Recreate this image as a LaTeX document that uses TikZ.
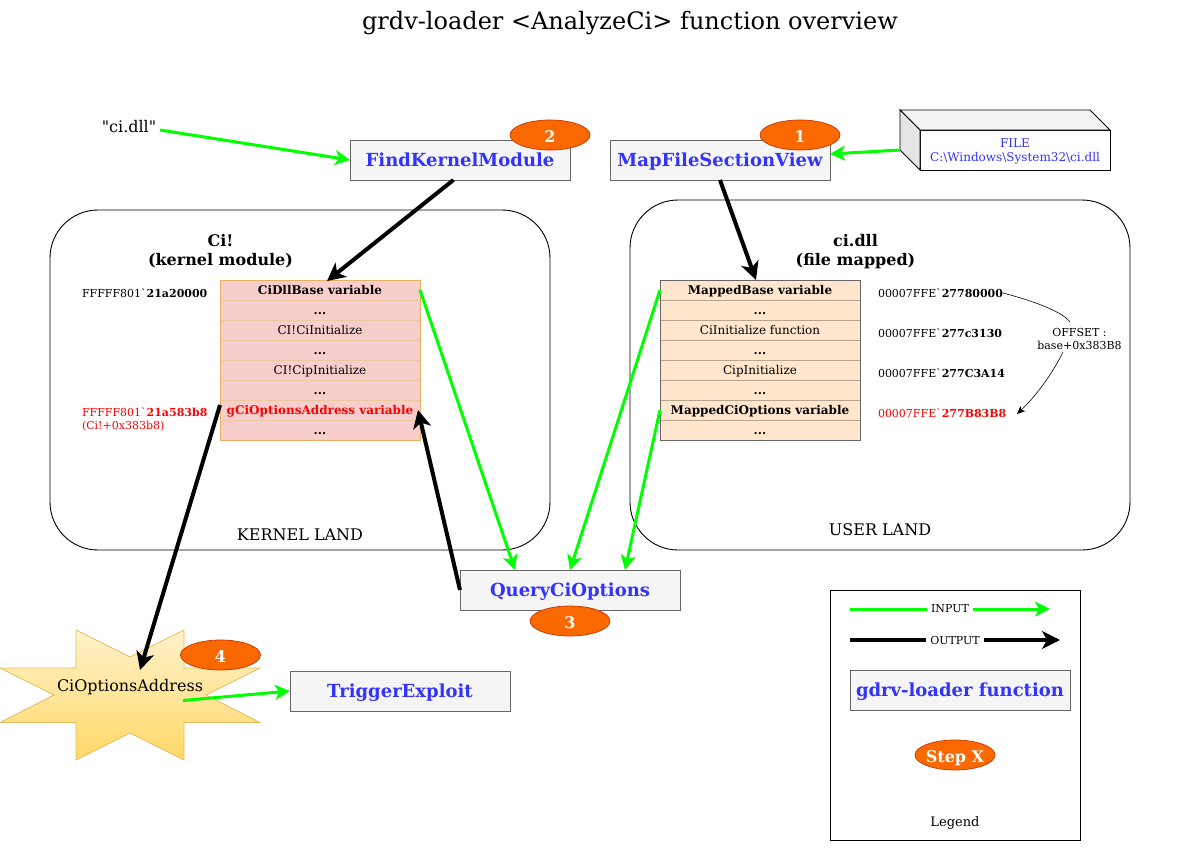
\documentclass[tikz,border=0pt]{standalone}
\usepackage{fontspec}
\setmainfont{DejaVu Serif}[Ligatures=TeXOff]
\usetikzlibrary{arrows.meta,calc,shapes.geometric}
\definecolor{fnblue}{HTML}{3333FF}
\definecolor{stepfill}{HTML}{FA6800}
\definecolor{stepline}{HTML}{C73500}
\definecolor{fnfill}{HTML}{F5F5F5}
\definecolor{fnline}{HTML}{666666}
\definecolor{gr}{HTML}{00FF00}
\definecolor{rowafill}{HTML}{F8CECC}
\definecolor{rowaline}{HTML}{EBC8A0}
\definecolor{rowaframe}{HTML}{E8B060}
\definecolor{rowbfill}{HTML}{FFE6CC}
\definecolor{rowbline}{HTML}{B8A390}
\definecolor{stara}{HTML}{FFF2CC}
\definecolor{starb}{HTML}{FFD966}
\definecolor{starline}{HTML}{E3BC5C}
\newcommand{\fs}[1]{\fontsize{#1}{#1}\selectfont}
\tikzset{
  x=1pt,y=-1pt,
  every node/.style={inner sep=0pt,outer sep=0pt},
  fnbox/.style={draw=fnline,fill=fnfill,line width=.9pt,minimum width=220pt,minimum height=40pt,text=fnblue,font=\fs{18}\bfseries,text height=16pt,text depth=3pt},
  stepnode/.style={ellipse,draw=stepline,fill=stepfill,line width=.7pt,minimum width=80pt,minimum height=30pt,text=white,font=\fs{16}\bfseries,text height=14pt,text depth=0pt},
  land/.style={draw=black,line width=.9pt,rounded corners=48pt},
  rowa/.style={draw=rowaline,fill=rowafill,line width=.6pt,minimum width=200pt,minimum height=20pt,font=\fs{12},text height=10.5pt,text depth=2.5pt},
  rowb/.style={draw=rowbline,fill=rowbfill,line width=.6pt,minimum width=200pt,minimum height=20pt,font=\fs{12},text height=10.5pt,text depth=2.5pt},
  addr/.style={anchor=west,font=\fs{11}},
  inarrow/.style={draw=gr,line width=3pt,-{Stealth[length=15pt,width=15pt,inset=4pt]}},
  outarrow/.style={draw=black,line width=4pt,-{Stealth[length=18pt,width=18pt,inset=5pt]}},
  thinarrow/.style={draw=black,line width=.6pt},
}
\begin{document}
\begin{tikzpicture}
\useasboundingbox (0,0) rectangle (1179,857);
\fill[white] (0,0) rectangle (1179,857);
\node[font=\fs{24}] (title) at (630,23.5) {grdv-loader <AnalyzeCi> function overview};

% land containers
\draw[land] (50,210) rectangle (550,550);
\draw[land] (630,200) rectangle (1130,550);
\node[font=\fs{16}\bfseries,align=center] (cilabel) at (220.5,251.5) {Ci!\\[3pt](kernel module)};
\node[font=\fs{16}\bfseries,align=center] (dlllabel) at (855.5,251.5) {ci.dll\\[3pt](file mapped)};
\node[font=\fs{16}] (kl) at (300,535) {KERNEL LAND};
\node[font=\fs{16}] (ul) at (880,530) {USER LAND};

% kernel table
\foreach \n/\y/\t in {a1/290/{\bfseries CiDllBase variable},a2/310/{\bfseries ...},a3/330/{CI!CiInitialize},a4/350/{\bfseries ...},a5/370/{CI!CipInitialize},a6/390/{\bfseries ...},a7/410/{\bfseries\color{red}gCiOptionsAddress variable},a8/430/{\bfseries ...}}
  \node[rowa] (\n) at (320,\y) {\t};
\draw[draw=rowaframe,line width=.8pt] (220,280) rectangle (420,440);
% mapped table
\foreach \n/\y/\t in {b1/290/{\bfseries MappedBase variable},b2/310/{\bfseries ...},b3/330/{CiInitialize function},b4/350/{\bfseries ...},b5/370/{CipInitialize},b6/390/{\bfseries ...},b7/410/{\bfseries MappedCiOptions variable},b8/430/{\bfseries ...}}
  \node[rowb] (\n) at (760,\y) {\t};
\draw[draw=black!60,line width=.8pt] (660,280) rectangle (860,440);

% addresses
\node[addr] (ka1) at (82,293) {FFFFF801`\textbf{21a20000}};
\node[addr,text=red,align=left] (ka2) at (82,419.5) {FFFFF801`\textbf{21a583b8}\\[1.5pt](Ci!+0x383b8)};
\node[addr] (ua1) at (878,293) {00007FFE`\textbf{27780000}};
\node[addr] (ua2) at (878,333) {00007FFE`\textbf{277c3130}};
\node[addr] (ua3) at (878,373) {00007FFE`\textbf{277C3A14}};
\node[addr,text=red] (ua4) at (878,413) {00007FFE`\textbf{277B83B8}};
\node[font=\fs{11},align=center] (offset) at (1079.5,338.5) {OFFSET :\\[2pt]base+0x383B8};
\coordinate (offend) at (1017,414);
\coordinate (offtop) at (1070,322);
\coordinate (offbot) at (1063,352);
\draw[thinarrow] (ua1.east) .. controls (1030,300) and (1062,311) .. (offtop);
\draw[thinarrow,-{Stealth[length=8pt,width=7pt,inset=2pt]}] (offbot) .. controls (1052,375) and (1034,398) .. (offend);

% function boxes
\node[fnbox] (find) at (460,160) {FindKernelModule};
\node[fnbox] (map) at (720,160) {MapFileSectionView};
\node[fnbox] (query) at (570,590) {QueryCiOptions};
\node[fnbox] (trigger) at (400,691) {TriggerExploit};

% file cuboid
\filldraw[draw=black,line width=.9pt,fill=white] (920,130) rectangle (1110,170);
\filldraw[draw=black,line width=.9pt,fill=black!5] (900,110) -- (1090,110) -- (1110,130) -- (920,130) -- cycle;
\filldraw[draw=black,line width=.9pt,fill=black!10] (900,110) -- (920,130) -- (920,170) -- (900,150) -- cycle;
\node[font=\fs{12},text=fnblue,align=center] (file) at (1015,151.5) {FILE\\[2pt]C:\textbackslash Windows\textbackslash System32\textbackslash ci.dll};
\coordinate (cube) at (900,150);
\coordinate (mapin) at ($(map.north east)!.35!(map.south east)$);

% star
\draw[draw=starline,line width=.8pt,top color=stara,bottom color=starb]
  (76,630) -- (130,657) -- (184,630) -- (184,668) -- (260,668) -- (206,695) -- (260,722.5) -- (184,722.5) -- (184,760) -- (130,733) -- (76,760) -- (76,722.5) -- (0,722.5) -- (54,695) -- (0,668) -- (76,668) -- cycle;
\node[font=\fs{16}] (star) at (130,687) {CiOptionsAddress};
\coordinate (starin) at (140,670);
\coordinate (starout) at (183,700.5);

% quote
\node[font=\fs{16}] (ci) at (129,127) {"ci.dll"};

% steps
\node[stepnode] (s2) at (550,135) {2};
\node[stepnode] (s1) at (800,135) {1};
\node[stepnode] (s3) at (570,621) {3};
\node[stepnode] (s4) at (220.5,655) {4};

% connector anchors
\coordinate (cistart) at (160,130);
\coordinate (findout) at ($(find.south west)!.47!(find.south east)$);
\coordinate (a1in) at (327,281);
\coordinate (b1in) at (756,280);
\coordinate (a7out) at (220,405);
\coordinate (a7in) at (418,410);
\coordinate (q1) at ($(query.north west)!.25!(query.north east)$);
\coordinate (q3) at ($(query.north west)!.75!(query.north east)$);

\draw[inarrow] (cistart) -- (find.west);
\draw[inarrow] (cube) -- (mapin);
\draw[outarrow] (findout) -- (a1in);
\draw[outarrow] (map.south) -- (b1in);
\draw[inarrow] (a1.east) -- (q1);
\draw[inarrow] (b1.west) -- (query.north);
\draw[inarrow] (b7.west) -- (q3);
\draw[outarrow] (query.west) -- (a7in);
\draw[outarrow] (a7out) -- (starin);
\draw[inarrow] (starout) -- (trigger.west);

% legend
\draw[draw=black,line width=.9pt] (830,590) rectangle (1080,840);
\coordinate (li1) at (850,609);
\coordinate (li2) at (1050,609);
\coordinate (lo1) at (850,640);
\coordinate (lo2) at (1060,640);
\draw[inarrow] (li1) -- (li2) node[pos=.5,fill=white,inner xsep=4pt,inner ysep=1pt,font=\fs{11},text=black] (linput) {INPUT};
\draw[outarrow] (lo1) -- (lo2) node[pos=.5,fill=white,inner xsep=4pt,inner ysep=1pt,font=\fs{11},text=black] (loutput) {OUTPUT};
\node[fnbox] (lfn) at (960,690) {gdrv-loader function};
\node[stepnode,inner xsep=-2pt] (lstep) at (955,755) {Step X};
\node[font=\fs{13}] (leg) at (955,823) {Legend};
\end{tikzpicture}
\end{document}
